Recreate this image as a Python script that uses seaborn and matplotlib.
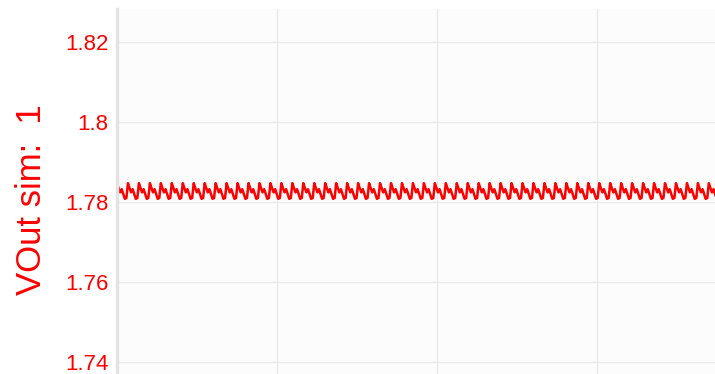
import numpy as np
import pandas as pd
import matplotlib
matplotlib.use("Agg")
import matplotlib.pyplot as plt
import seaborn as sns

# Output voltage ripple: one switching cycle of samples, repeated over the run
cycle_volts = [1.7847, 1.7835, 1.7824, 1.7832, 1.7820, 1.7808, 1.7810]
n_cycles = 55
cycle_period = 0.0685          # time units per switching cycle
t_start = 0.0
y_ticks = [1.74, 1.76, 1.78, 1.80, 1.82]
y_tick_labels = ["1.74", "1.76", "1.78", "1.8", "1.82"]
x_grid = [0, 1, 2, 3]
y_label = "VOut sim:  1"

volts = np.tile(cycle_volts, n_cycles)
step = cycle_period / len(cycle_volts)
times = t_start + step * np.arange(len(volts))
df = pd.DataFrame({"time": times, "vout": volts})

sns.set_theme(style="whitegrid")
plt.rcParams["font.family"] = ["Liberation Sans", "DejaVu Sans"]

fig = plt.figure(figsize=(7.15, 3.74), dpi=100)
ax = fig.add_axes([117 / 715, 0.0, 1 - 117 / 715, 1 - 9 / 374])
ax.set_facecolor("#fcfcfc")

sns.lineplot(data=df, x="time", y="vout", ax=ax, color="#ff0000",
             linewidth=1.8, estimator=None)

ax.set_xlim(0, 598 / 160)
ax.set_ylim(1.737, 1.82825)
ax.set_xticks(x_grid)
ax.set_yticks(y_ticks)
ax.set_yticklabels(y_tick_labels)
ax.tick_params(axis="x", length=0, labelbottom=False)
ax.tick_params(axis="y", length=0, pad=6, labelsize=16, labelcolor="#ff0000")
ax.grid(True, color="#ebebeb", linewidth=1.0)
ax.set_xlabel("")
ax.set_ylabel(y_label, fontsize=25, color="#ff0000")
ax.yaxis.label.set_verticalalignment("center")
ax.yaxis.set_label_coords(-85 / 598, 174 / 365)

for side in ["top", "right", "bottom"]:
    ax.spines[side].set_visible(False)
ax.spines["left"].set_color("#e3e3e3")
ax.spines["left"].set_linewidth(2.5)

fig.savefig("out.png", dpi=100)
